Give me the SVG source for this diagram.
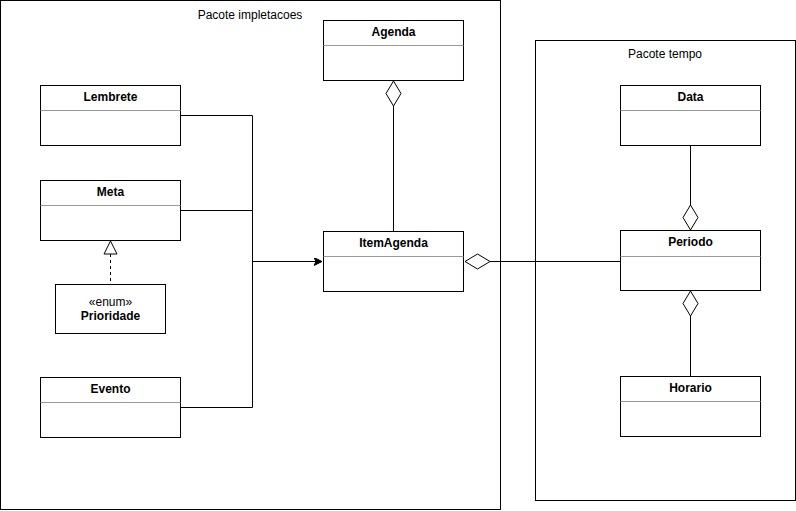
<svg xmlns="http://www.w3.org/2000/svg" width="796" height="511" viewBox="0 0 796 511">
<style>
.pkg{fill:#fff;stroke:#000;stroke-width:1}
.box{fill:#fff;stroke:#000;stroke-width:1}
.div{stroke:#999;stroke-width:1}
.t{font-family:"Liberation Sans",Arial,sans-serif;font-size:12px;fill:#000;text-anchor:middle}
.b{font-weight:bold}
.ln{fill:none;stroke:#000;stroke-width:1}
.dia{fill:#fff;stroke:#000;stroke-width:1}
</style>
<defs>
<marker id="arr" markerWidth="10" markerHeight="10" refX="8" refY="4" orient="auto" markerUnits="userSpaceOnUse">
<path d="M0,0 L8,4 L0,8 L2,4 Z" fill="#000" stroke="#000" stroke-width="1"/>
</marker>
</defs>
<g id="pacote-impletacoes">
<rect class="pkg" x="0.5" y="0.5" width="500" height="509"/>
<text class="t" x="250" y="19">Pacote impletacoes</text>
</g>
<g id="pacote-tempo">
<rect class="pkg" x="535.5" y="40.5" width="260" height="460"/>
<text class="t" x="665" y="58">Pacote tempo</text>
</g>
<g id="connectors">
<polyline class="ln" points="180.5,115.5 252.5,115.5 252.5,407.5 180.5,407.5"/>
<line class="ln" x1="180.5" y1="210.5" x2="252.5" y2="210.5"/>
<line class="ln" x1="252.5" y1="261.5" x2="322" y2="261.5" marker-end="url(#arr)"/>
<line class="ln" x1="393.5" y1="106" x2="393.5" y2="231.5"/>
<path class="dia" d="M393.5,81 L401,93.5 L393.5,106 L386,93.5 Z"/>
<line class="ln" x1="110.5" y1="254" x2="110.5" y2="284.5" stroke-dasharray="3,3"/>
<path class="dia" d="M110.5,241 L117,254 L104,254 Z"/>
<line class="ln" x1="490" y1="261.5" x2="620.5" y2="261.5"/>
<path class="dia" d="M465,261.5 L477.5,254 L490,261.5 L477.5,269 Z"/>
<line class="ln" x1="690.5" y1="145.5" x2="690.5" y2="205"/>
<path class="dia" d="M690.5,205 L698,217.5 L690.5,230 L683,217.5 Z"/>
<line class="ln" x1="690.5" y1="316" x2="690.5" y2="376.5"/>
<path class="dia" d="M690.5,291 L698,303.5 L690.5,316 L683,303.5 Z"/>
</g>
<g id="agenda">
<rect class="box" x="323.5" y="20.5" width="140" height="60"/>
<line class="div" x1="323.5" y1="45.5" x2="463.5" y2="45.5"/>
<text class="t b" x="393.5" y="36">Agenda</text>
</g>
<g id="lembrete">
<rect class="box" x="40.5" y="85.5" width="140" height="60"/>
<line class="div" x1="40.5" y1="110.5" x2="180.5" y2="110.5"/>
<text class="t b" x="110.5" y="101">Lembrete</text>
</g>
<g id="meta">
<rect class="box" x="40.5" y="180.5" width="140" height="60"/>
<line class="div" x1="40.5" y1="205.5" x2="180.5" y2="205.5"/>
<text class="t b" x="110.5" y="196">Meta</text>
</g>
<g id="prioridade">
<rect class="box" x="55.5" y="284.5" width="110" height="49"/>
<text class="t" x="110.5" y="305.5">«enum»</text>
<text class="t b" x="110.5" y="320">Prioridade</text>
</g>
<g id="evento">
<rect class="box" x="40.5" y="377.5" width="140" height="60"/>
<line class="div" x1="40.5" y1="402.5" x2="180.5" y2="402.5"/>
<text class="t b" x="110.5" y="393">Evento</text>
</g>
<g id="itemagenda">
<rect class="box" x="323.5" y="231.5" width="140" height="60"/>
<line class="div" x1="323.5" y1="256.5" x2="463.5" y2="256.5"/>
<text class="t b" x="393.5" y="247">ItemAgenda</text>
</g>
<g id="data">
<rect class="box" x="620.5" y="85.5" width="140" height="60"/>
<line class="div" x1="620.5" y1="110.5" x2="760.5" y2="110.5"/>
<text class="t b" x="690.5" y="101">Data</text>
</g>
<g id="periodo">
<rect class="box" x="620.5" y="230.5" width="140" height="60"/>
<line class="div" x1="620.5" y1="256.5" x2="760.5" y2="256.5"/>
<text class="t b" x="690.5" y="246">Periodo</text>
</g>
<g id="horario">
<rect class="box" x="620.5" y="376.5" width="140" height="60"/>
<line class="div" x1="620.5" y1="401.5" x2="760.5" y2="401.5"/>
<text class="t b" x="690.5" y="392">Horario</text>
</g>
</svg>
